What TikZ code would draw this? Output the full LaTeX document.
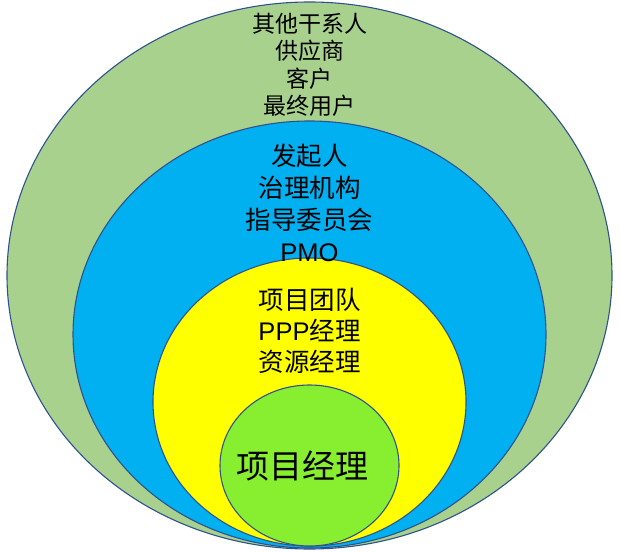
\documentclass[tikz,border=0pt]{standalone}
\usepackage{fontspec}
\setmainfont{Liberation Sans}
\newfontfamily\cjk{Noto Sans CJK SC}
\usetikzlibrary{shapes.geometric}
\definecolor{RingOuter}{HTML}{A9D18E}
\definecolor{RingBlue}{HTML}{00B0F0}
\definecolor{RingYellow}{HTML}{FFFF00}
\definecolor{RingCore}{HTML}{88EF30}
\definecolor{RingEdge}{HTML}{2F528F}
\newcommand{\zh}[1]{{\cjk #1}}

\begin{document}
\begin{tikzpicture}[x=1pt, y=-1pt,
    ring/.style={ellipse, draw=RingEdge, line width=1.1pt, inner sep=0pt},
    label/.style={align=center, text=black, inner sep=0pt}
  ]
    \useasboundingbox (0,0) rectangle (620,553);
    \node[ring, fill=RingOuter, minimum width=605pt, minimum height=547pt] (others) at (309.5,275.5) {};
    \node[ring, fill=RingBlue, minimum width=473pt, minimum height=427pt] (sponsor) at (309.5,334.5) {};
    \node[ring, fill=RingYellow, minimum width=313pt, minimum height=288pt] (team) at (309.5,402) {};
    \node[ring, fill=RingCore, minimum width=179pt, minimum height=161pt] (pm) at (309.5,465.5) {};
    % texts
    \node[label, font=\fontsize{23}{27.5}\selectfont] (otherstext) at (309.5,65)
      {\zh{其他干系人}\\\zh{供应商}\\\zh{客户}\\\zh{最终用户}};
    \node[label, font=\fontsize{25.5}{32}\selectfont] (sponsortext) at (309.5,203)
      {\zh{发起人}\\\zh{治理机构}\\\zh{指导委员会}\\PMO};
    \node[label, font=\fontsize{25.5}{31}\selectfont] (teamtext) at (309.5,331)
      {\zh{项目团队}\\PPP\zh{经理}\\\zh{资源经理}};
    \node[label, font=\fontsize{33}{38}\selectfont] (pmtext) at (302.5,466) {\zh{项目经理}};
  \end{tikzpicture}
\end{document}
